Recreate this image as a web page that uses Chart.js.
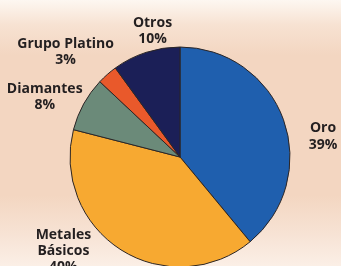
<!DOCTYPE html>
<html>
<head>
<meta charset="utf-8">
<script src="https://cdn.jsdelivr.net/npm/chart.js@4"></script>
<style>
html, body { margin:0; padding:0; width:341px; height:266px; overflow:hidden; }
body { background: linear-gradient(to bottom, #fdf7f1 0px, #f7e2d2 25px, #f3d6c1 55px, #f3d6c1 195px, #f7e3d5 235px, #fbefe6 266px); }
#wrap { position:absolute; left:0; top:0; width:341px; height:300px; }
</style>
</head>
<body>
<div id="wrap"><canvas id="c" width="341" height="300"></canvas></div>
<script>
const categories = ["Oro", "Metales Básicos", "Diamantes", "Grupo Platino", "Otros"];
const values = [39, 40, 8, 3, 10];
const labelLines = [["Oro", "39%"], ["Metales", "Básicos", "40%"], ["Diamantes", "8%"], ["Grupo Platino", "3%"], ["Otros", "10%"]];
const colors = ["#1f5fae", "#f7a931", "#6b8a79", "#e9592b", "#1b1f57"];

// label anchor offsets relative to pie centre, in units of the radius
const labelOffsets = [[1.30, -0.26], [-1.06, 0.71], [-1.23, -0.62], [-1.04, -1.03], [-0.25, -1.22]];

const labelPlugin = {
  id: 'outerLabels',
  afterDraw(chart) {
    const meta = chart.getDatasetMeta(0);
    const arc = meta.data[0];
    const cx = arc.x, cy = arc.y, r = arc.outerRadius;
    const ctx = chart.ctx;
    ctx.save();
    ctx.fillStyle = '#231f20';
    ctx.font = 'bold 14px "Open Sans"';
    ctx.textAlign = 'center';
    ctx.textBaseline = 'middle';
    labelLines.forEach((lines, i) => {
      const x = cx + labelOffsets[i][0] * r;
      const y = cy + labelOffsets[i][1] * r;
      lines.forEach((t, k) => ctx.fillText(t, x, y + k * 16.2));
    });
    ctx.restore();
  }
};

new Chart(document.getElementById('c'), {
  type: 'pie',
  data: {
    labels: categories,
    datasets: [{
      data: values,
      backgroundColor: colors,
      borderColor: '#2b2525',
      borderWidth: 1
    }]
  },
  options: {
    responsive: false,
    animation: false,
    radius: 110,
    layout: { padding: { left: 20, right: 1, top: 47, bottom: 33 } },
    plugins: { legend: { display: false }, tooltip: { enabled: false } }
  },
  plugins: [labelPlugin]
});
</script>
</body>
</html>
